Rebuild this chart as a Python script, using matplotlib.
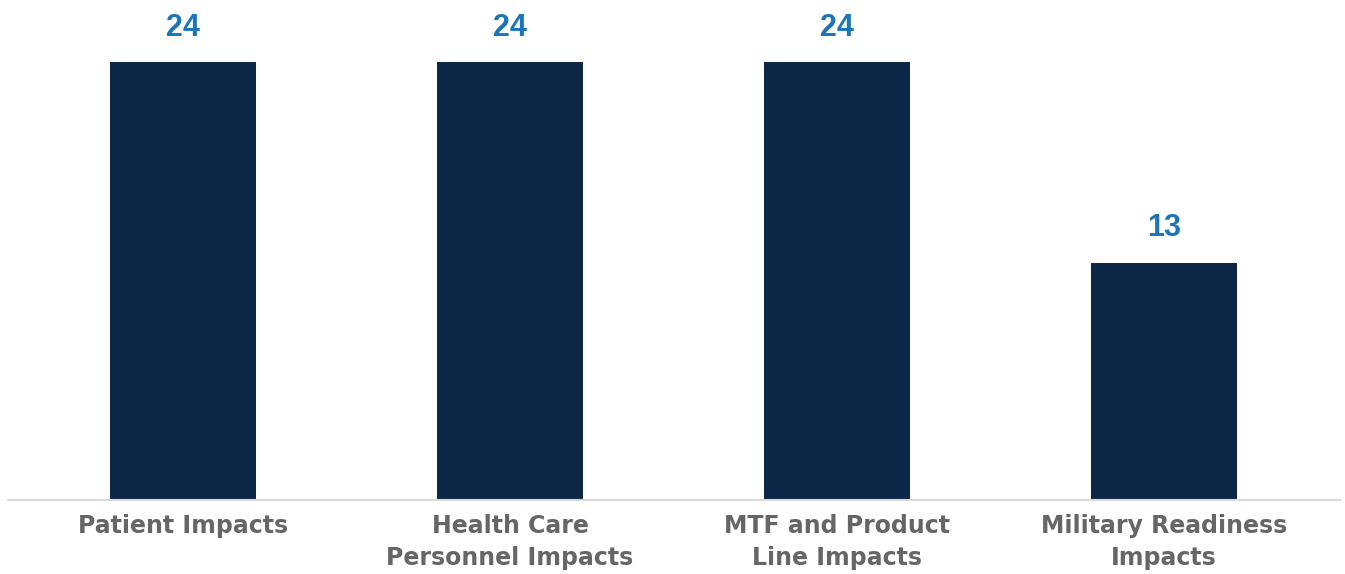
import matplotlib.pyplot as plt

categories = ['Patient Impacts', 'Health Care\nPersonnel Impacts',
              'MTF and Product\nLine Impacts', 'Military Readiness\nImpacts']
counts = [24, 24, 24, 13]

bar_color = '#0d2846'
label_color = '#1b75bb'
tick_color = '#666666'

fig = plt.figure(figsize=(13.45, 5.74), dpi=100)
ax = fig.add_axes([8 / 1345, 74 / 574, 1332 / 1345, 500 / 574])

x = range(len(categories))
bars = ax.bar(x, counts, width=0.447, color=bar_color)

for b, v in zip(bars, counts):
    ax.annotate(str(v), (b.get_x() + b.get_width() / 2, v), xytext=(0, 14),
                textcoords='offset points', ha='center', va='bottom',
                fontsize=22, fontweight='bold', color=label_color,
                family='Liberation Sans')

ax.set_xlim(-0.535, 3.538)
ax.set_ylim(0, 27.4)
ax.set_xticks(list(x))
ax.set_xticklabels(categories, fontsize=17, fontweight='bold', color=tick_color,
                   linespacing=1.45)
ax.tick_params(axis='x', length=0, pad=10)
ax.set_yticks([])
for s in ['top', 'right', 'left']:
    ax.spines[s].set_visible(False)
ax.spines['bottom'].set_color('#d9d9d9')
ax.spines['bottom'].set_linewidth(1.5)

fig.savefig('out.png', dpi=100)
